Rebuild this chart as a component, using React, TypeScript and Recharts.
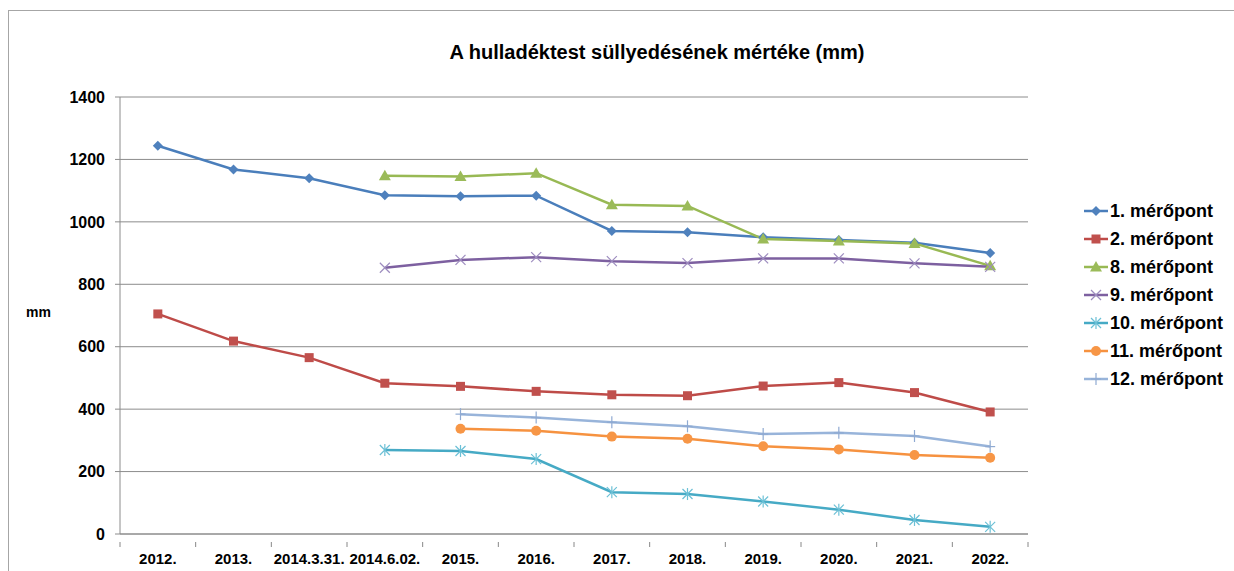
import React from "react";
import {
  ComposedChart,
  Line,
  XAxis,
  YAxis,
  CartesianGrid,
  Legend,
} from "recharts";

const categories = [
  "2012.", "2013.", "2014.3.31.", "2014.6.02.", "2015.", "2016.",
  "2017.", "2018.", "2019.", "2020.", "2021.", "2022.",
];

const p1 = [1244, 1168, 1140, 1085, 1082, 1084, 971, 967, 951, 942, 933, 900];
const p2 = [705, 618, 565, 483, 473, 457, 446, 443, 474, 485, 453, 391];
const p8 = [null, null, null, 1148, 1145, 1156, 1055, 1051, 945, 939, 931, 859];
const p9 = [null, null, null, 853, 878, 887, 874, 868, 883, 883, 867, 856];
const p10 = [null, null, null, 269, 266, 240, 134, 128, 104, 78, 45, 23];
const p11 = [null, null, null, null, 337, 331, 312, 305, 281, 271, 253, 244];
const p12 = [null, null, null, null, 384, 373, 358, 345, 320, 324, 314, 280];

const yTicks = [0, 200, 400, 600, 800, 1000, 1200, 1400];

const series = [
  { key: "p1", name: "1. mérőpont", values: p1, line: "#4a7ebb", mark: "#4f81bd", shape: "diamond" },
  { key: "p2", name: "2. mérőpont", values: p2, line: "#be4b48", mark: "#c0504d", shape: "square" },
  { key: "p8", name: "8. mérőpont", values: p8, line: "#98b954", mark: "#9bbb59", shape: "triangle" },
  { key: "p9", name: "9. mérőpont", values: p9, line: "#7d60a0", mark: "#9d8cbf", shape: "x" },
  { key: "p10", name: "10. mérőpont", values: p10, line: "#46aac5", mark: "#6cc0d6", shape: "star" },
  { key: "p11", name: "11. mérőpont", values: p11, line: "#f69240", mark: "#f79646", shape: "circle" },
  { key: "p12", name: "12. mérőpont", values: p12, line: "#98b4da", mark: "#8faad2", shape: "plus" },
];

const data = categories.map((c, i) => {
  const row: any = { name: c };
  series.forEach((s) => (row[s.key] = s.values[i]));
  return row;
});

const W = 1234;
const H = 571;
const MARGIN = { top: 97, right: 206, bottom: 7, left: 50 };
const Y_W = 70;
const PLOT_W = W - MARGIN.left - MARGIN.right - Y_W;
const BAND = PLOT_W / categories.length;
const FONT = "'Liberation Sans', Arial, sans-serif";

function Marker({ shape, cx, cy, color }: any) {
  switch (shape) {
    case "diamond":
      return <polygon points={`${cx},${cy - 5} ${cx + 5},${cy} ${cx},${cy + 5} ${cx - 5},${cy}`} fill={color} />;
    case "square":
      return <rect x={cx - 4.5} y={cy - 4.5} width={9} height={9} fill={color} />;
    case "triangle":
      return <polygon points={`${cx},${cy - 6} ${cx + 6},${cy + 4.5} ${cx - 6},${cy + 4.5}`} fill={color} />;
    case "x":
      return (
        <g stroke={color} strokeWidth={1.2}>
          <line x1={cx - 5} y1={cy - 5} x2={cx + 5} y2={cy + 5} />
          <line x1={cx - 5} y1={cy + 5} x2={cx + 5} y2={cy - 5} />
        </g>
      );
    case "star":
      return (
        <g stroke={color} strokeWidth={1.2}>
          <line x1={cx - 5} y1={cy - 5} x2={cx + 5} y2={cy + 5} />
          <line x1={cx - 5} y1={cy + 5} x2={cx + 5} y2={cy - 5} />
          <line x1={cx} y1={cy - 6} x2={cx} y2={cy + 6} />
        </g>
      );
    case "circle":
      return <circle cx={cx} cy={cy} r={5} fill={color} />;
    case "plus":
      return (
        <g stroke={color} strokeWidth={1.2}>
          <line x1={cx} y1={cy - 6} x2={cx} y2={cy + 6} />
          <line x1={cx - 5} y1={cy} x2={cx + 5} y2={cy} />
        </g>
      );
    default:
      return null;
  }
}

const makeDot = (shape: string, color: string) => (props: any) => {
  const { cx, cy, value, index } = props;
  if (cx == null || cy == null || value == null || Number.isNaN(cy)) {
    return <g key={`e-${index}`} />;
  }
  return (
    <g key={`d-${index}`}>
      <Marker shape={shape} cx={cx} cy={cy} color={color} />
    </g>
  );
};

function XTick(props: any) {
  const { x, y, payload, index } = props;
  const last = index === categories.length - 1;
  return (
    <g>
      <line x1={x - BAND / 2} y1={y} x2={x - BAND / 2} y2={y + 5} stroke="#888" />
      {last && <line x1={x + BAND / 2} y1={y} x2={x + BAND / 2} y2={y + 5} stroke="#888" />}
      <text x={x} y={y + 22} textAnchor="middle" fontSize={15} fontWeight="bold" fontFamily={FONT} fill="#000">
        {payload.value}
      </text>
    </g>
  );
}

function LegendBox() {
  return (
    <div style={{ fontFamily: FONT, fontWeight: "bold", fontSize: 18, color: "#000" }}>
      {series.map((s) => (
        <div key={s.key} style={{ display: "flex", alignItems: "center", height: 28 }}>
          <svg width={26} height={14} style={{ marginRight: 1 }}>
            <line x1={1} y1={7} x2={25} y2={7} stroke={s.line} strokeWidth={2.5} />
            <Marker shape={s.shape} cx={13} cy={7} color={s.mark} />
          </svg>
          <span>{s.name}</span>
        </div>
      ))}
    </div>
  );
}

export default function App() {
  return (
    <div style={{ position: "absolute", left: 0, top: 0, width: W, height: H, background: "#fff", overflow: "hidden" }}>
      <div style={{ position: "absolute", left: 8, top: 10, right: 0, bottom: 0, borderLeft: "1px solid #a6a6a6", borderTop: "1px solid #a6a6a6" }} />
      <div style={{ position: "absolute", left: 0, top: 41, width: 1314, textAlign: "center", fontFamily: FONT, fontWeight: "bold", fontSize: 20 }}>
        A hulladéktest süllyedésének mértéke (mm)
      </div>
      <div style={{ position: "absolute", left: 26, top: 304, fontFamily: FONT, fontWeight: "bold", fontSize: 14 }}>mm</div>
      <div style={{ position: "absolute", left: 0, top: 0 }}>
        <ComposedChart width={W} height={H} data={data} margin={MARGIN}>
          <CartesianGrid vertical={false} stroke="#8c8c8c" strokeWidth={1} />
          <XAxis
            dataKey="name"
            height={30}
            stroke="#8c8c8c"
            tickLine={false}
            interval={0}
            padding={{ left: BAND / 2, right: BAND / 2 }}
            tick={<XTick />}
          />
          <YAxis
            width={Y_W}
            domain={[0, 1400]}
            ticks={yTicks}
            interval={0}
            stroke="#8c8c8c"
            tickSize={5}
            tickMargin={10}
            tick={{ fill: "#000", fontSize: 16, fontWeight: "bold", fontFamily: FONT }}
          />
          <Legend
            layout="vertical"
            align="center"
            verticalAlign="middle"
            wrapperStyle={{ left: 1083, top: 197, width: 160 }}
            content={() => <LegendBox />}
          />
          {series.map((s) => (
            <Line
              key={s.key}
              dataKey={s.key}
              name={s.name}
              type="linear"
              stroke={s.line}
              strokeWidth={2.5}
              dot={makeDot(s.shape, s.mark)}
              activeDot={false}
              isAnimationActive={false}
            />
          ))}
        </ComposedChart>
      </div>
    </div>
  );
}
